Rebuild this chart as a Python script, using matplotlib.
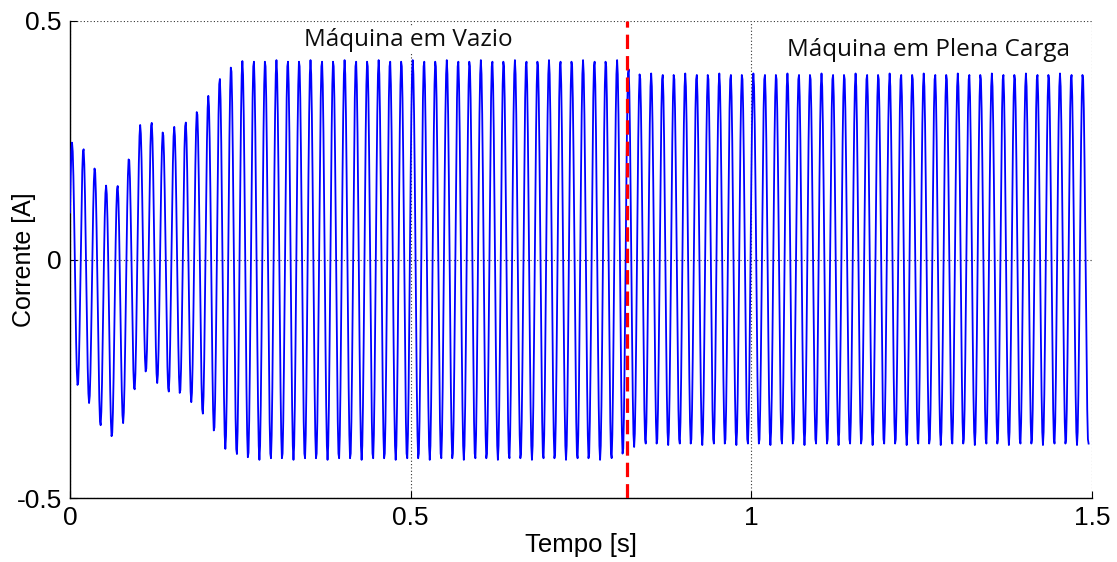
import numpy as np
import matplotlib
matplotlib.use("Agg")
import matplotlib.pyplot as plt

# ---------------- data ----------------
freq_hz = 60.0            # supply frequency (one peak every ~11.3 px)
first_peak_time = 0.003   # time of the first positive peak [s]
sample_rate = 1000.0      # acquisition rate [Hz]
t_end = 1.495             # last recorded sample [s]
load_time = 0.818         # red dashed line: load applied

# positive peak of each cycle [A]
pos_peaks = [
    0.245, 0.234, 0.192, 0.155, 0.155, 0.213, 0.282, 0.289, 0.268, 0.278,
    0.289, 0.312, 0.343, 0.381, 0.406, 0.416, 0.418, 0.418, 0.418, 0.418,
    0.418, 0.418, 0.418, 0.418, 0.418, 0.418, 0.418, 0.418, 0.418, 0.418,
    0.418, 0.418, 0.418, 0.418, 0.418, 0.418, 0.418, 0.418, 0.418, 0.418,
    0.418, 0.418, 0.418, 0.418, 0.418, 0.418, 0.418, 0.418, 0.418, 0.402,
    0.391, 0.390, 0.390, 0.390, 0.390, 0.390, 0.390, 0.390, 0.390, 0.390,
    0.390, 0.390, 0.390, 0.390, 0.390, 0.390, 0.390, 0.390, 0.390, 0.390,
    0.390, 0.390, 0.390, 0.390, 0.390, 0.390, 0.390, 0.390, 0.390, 0.390,
    0.390, 0.390, 0.390, 0.390, 0.390, 0.390, 0.390, 0.390, 0.390, 0.390,
]
# negative peak (trough) of each cycle [A]
neg_peaks = [
    -0.265, -0.301, -0.349, -0.373, -0.343, -0.275, -0.236, -0.259, -0.279, -0.282,
    -0.299, -0.325, -0.362, -0.397, -0.411, -0.418, -0.420, -0.420, -0.420, -0.420,
    -0.420, -0.420, -0.420, -0.420, -0.420, -0.420, -0.420, -0.420, -0.420, -0.420,
    -0.420, -0.420, -0.420, -0.420, -0.420, -0.420, -0.420, -0.420, -0.420, -0.420,
    -0.420, -0.420, -0.420, -0.420, -0.420, -0.420, -0.420, -0.420, -0.410, -0.393,
    -0.389, -0.389, -0.389, -0.389, -0.389, -0.389, -0.389, -0.389, -0.389, -0.389,
    -0.389, -0.389, -0.389, -0.389, -0.389, -0.389, -0.389, -0.389, -0.389, -0.389,
    -0.389, -0.389, -0.389, -0.389, -0.389, -0.389, -0.389, -0.389, -0.389, -0.389,
    -0.389, -0.389, -0.389, -0.389, -0.389, -0.389, -0.389, -0.389, -0.389, -0.389,
]

x_ticks = [0, 0.5, 1, 1.5]
x_tick_labels = ["0", "0.5", "1", "1.5"]
y_ticks = [-0.5, 0, 0.5]
y_tick_labels = ["-0.5", "0", "0.5"]
label_vazio = "Máquina em Vazio"
label_carga = "Máquina em Plena Carga"

# ---------------- build the sampled waveform ----------------
period = 1.0 / freq_hz
k = np.arange(len(pos_peaks))
t_pos = first_peak_time + k * period
t_neg = t_pos + period / 2
t = np.arange(0, t_end + 1e-9, 1.0 / sample_rate)
P = np.interp(t, t_pos, pos_peaks)
N = np.interp(t, t_neg, neg_peaks)
offset = (P + N) / 2
amp = (P - N) / 2
current = offset + amp * np.cos(2 * np.pi * freq_hz * (t - first_peak_time))

# ---------------- plot ----------------
fig = plt.figure(figsize=(11.17, 5.62), dpi=100)
ax = fig.add_axes([70 / 1117, 1 - 498 / 562, 1022 / 1117, 477 / 562])

tick_font = ["Liberation Sans", "DejaVu Sans"]

ax.plot(t, current, color=(0, 0, 1), lw=1.3, zorder=3)
ax.axvline(load_time, color=(1, 0, 0), lw=2.3, ls=(0, (4.5, 2.2)), zorder=4)

ax.set_xlim(0, 1.5)
ax.set_ylim(-0.5, 0.5)
ax.set_xticks(x_ticks)
ax.set_xticklabels(x_tick_labels, fontsize=19, family=tick_font)
ax.set_yticks(y_ticks)
ax.set_yticklabels(y_tick_labels, fontsize=19, family=tick_font)
ax.tick_params(direction="in", length=5, width=0.8, pad=6)

ax.grid(True, linestyle=(0, (1, 2)), color="0.2", lw=0.8, zorder=1)
ax.spines["top"].set_visible(False)
ax.spines["right"].set_visible(False)
ax.spines["left"].set_linewidth(1.0)
ax.spines["bottom"].set_linewidth(1.0)

ax.set_xlabel("Tempo [s]", fontsize=18.5, family=tick_font, labelpad=2)
ax.set_ylabel("Corrente [A]", fontsize=18, family=tick_font)
ax.yaxis.set_label_coords(-34 / 1022, 0.5)

ax.text(0.497, 0.46, label_vazio, ha="center", va="center", fontsize=17.5,
        family=["Open Sans", "DejaVu Sans"], color="0.05",
        bbox=dict(facecolor="white", edgecolor="none", pad=1), zorder=5)
ax.text(1.26, 0.44, label_carga, ha="center", va="center", fontsize=17.5,
        family=["Open Sans", "DejaVu Sans"], color="0.05",
        bbox=dict(facecolor="white", edgecolor="none", pad=1), zorder=5)

fig.savefig("out.png", dpi=100)
